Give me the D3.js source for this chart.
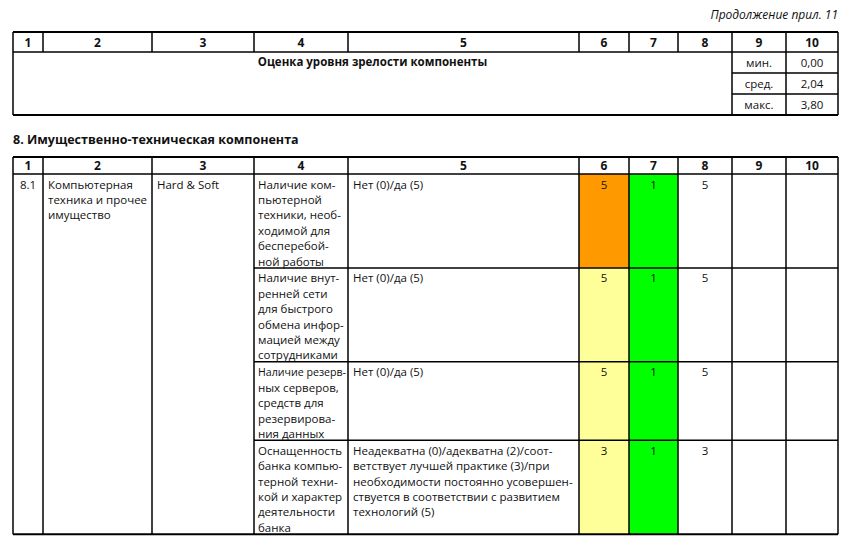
<!DOCTYPE html>
<html>
<head>
<meta charset="utf-8">
<script src="https://cdn.jsdelivr.net/npm/d3@7/dist/d3.min.js"></script>
<style>
  body { margin: 0; background: #fff; }
  text { font-family: "Open Sans", sans-serif; fill: #111; }
  .bold { font-weight: bold; }
</style>
</head>
<body>
<svg width="852" height="550"></svg>
<script>
// ---- data ----
const columns = ['1', '2', '3', '4', '5', '6', '7', '8', '9', '10'];
const noteText = 'Продолжение прил. 11';
const summaryTitle = 'Оценка уровня зрелости компоненты';
const statLabels = ['мин.', 'сред.', 'макс.'];
const statValues = [0.00, 2.04, 3.80];

const sectionTitle = '8. Имущественно-техническая компонента';
const groupId = '8.1';
const groupName = ['Компьютерная', 'техника и прочее', 'имущество'];
const groupTag = 'Hard & Soft';
const indicators = [
  ['Наличие ком-', 'пьютерной', 'техники, необ-', 'ходимой для', 'бесперебой-', 'ной работы'],
  ['Наличие внут-', 'ренней сети', 'для быстрого', 'обмена инфор-', 'мацией между', 'сотрудниками'],
  ['Наличие резерв-', 'ных серверов,', 'средств для', 'резервирова-', 'ния данных'],
  ['Оснащенность', 'банка компью-', 'терной техни-', 'кой и характер', 'деятельности', 'банка']
];
const criteria = [
  ['Нет (0)/да (5)'],
  ['Нет (0)/да (5)'],
  ['Нет (0)/да (5)'],
  ['Неадекватна (0)/адекватна (2)/соот-', 'ветствует лучшей практике (3)/при',
   'необходимости постоянно усовершен-', 'ствуется в соответствии с развитием', 'технологий (5)']
];
const col6Values = [5, 5, 5, 3];
const col7Values = [1, 1, 1, 1];
const col8Values = [5, 5, 5, 3];
const col6Status = ['alert', 'ok', 'ok', 'ok'];

// ---- layout ----
const svg = d3.select('svg');
const edges = [13, 43, 152, 254, 348, 579, 629, 678, 732, 786, 838];
const xLeft = d3.scaleOrdinal().domain(columns).range(edges.slice(0, -1));
const xRight = d3.scaleOrdinal().domain(columns).range(edges.slice(1));
const xMid = c => (xLeft(c) + xRight(c)) / 2;
const tableLeft = xLeft('1');
const tableRight = xRight('10');
const fs = 11.5;

const fill6 = d3.scaleOrdinal().domain(['alert', 'ok']).range(['#ff9900', '#ffff99']);
const fill7 = '#00ff00';
const fmt = d3.formatLocale({ decimal: ',', thousands: ' ', grouping: [3], currency: ['', ''] }).format('.2f');

const lines = svg.append('g').attr('class', 'lines');
const hline = (x1, x2, y, w = 1.5) => lines.append('line')
  .attr('x1', x1).attr('x2', x2).attr('y1', y).attr('y2', y)
  .attr('stroke', '#000').attr('stroke-width', w);
const vline = (x, y1, y2, w = 1.5) => lines.append('line')
  .attr('x1', x).attr('x2', x).attr('y1', y1).attr('y2', y2)
  .attr('stroke', '#000').attr('stroke-width', w);

// squeeze a line if it would run past its cell
const fitText = (sel, maxW) => {
  sel.each(function () {
    const len = this.getComputedTextLength();
    if (len > maxW) d3.select(this).attr('textLength', maxW).attr('lengthAdjust', 'spacingAndGlyphs');
  });
};

const labels = svg.append('g');

const drawHeader = (top, h) => {
  hline(tableLeft, tableRight, top, 2);
  hline(tableLeft, tableRight, top + h);
  edges.forEach(x => vline(x, top, top + h));
  labels.selectAll(null).data(columns).enter().append('text')
    .attr('class', 'bold')
    .attr('x', xMid).attr('y', top + h / 2 + 4.5)
    .attr('text-anchor', 'middle').attr('font-size', 12)
    .text(d => d);
};

// note
labels.append('text')
  .attr('x', tableRight).attr('y', 19)
  .attr('text-anchor', 'end').attr('font-size', 12).attr('font-style', 'italic')
  .text(noteText);

// ---- top table ----
const top1 = 32, head1 = 20, bottom1 = 115;
drawHeader(top1, head1);
const statY = d3.scaleBand().domain(statLabels).range([top1 + head1, bottom1]);

statLabels.forEach((s, i) => {
  if (i > 0) hline(xLeft('9'), tableRight, statY(s));
});
vline(tableLeft, top1 + head1, bottom1);
vline(xLeft('9'), top1 + head1, bottom1);
vline(xLeft('10'), top1 + head1, bottom1);
vline(tableRight, top1 + head1, bottom1);
hline(tableLeft, tableRight, bottom1, 2);

labels.append('text')
  .attr('class', 'bold')
  .attr('x', (tableLeft + xRight('8')) / 2).attr('y', statY(statLabels[0]) + 14)
  .attr('text-anchor', 'middle').attr('font-size', 11.5)
  .text(summaryTitle);

labels.selectAll(null).data(statLabels).enter().append('text')
  .attr('x', xMid('9')).attr('y', d => statY(d) + statY.bandwidth() / 2 + 4)
  .attr('text-anchor', 'middle').attr('font-size', fs)
  .text(d => d);
labels.selectAll(null).data(statValues).enter().append('text')
  .attr('x', xMid('10')).attr('y', (d, i) => statY(statLabels[i]) + statY.bandwidth() / 2 + 4)
  .attr('text-anchor', 'middle').attr('font-size', fs)
  .text(d => fmt(d));

// ---- section ----
labels.append('text')
  .attr('class', 'bold')
  .attr('x', tableLeft).attr('y', 144)
  .attr('font-size', 12.5)
  .text(sectionTitle);

const top2 = 157, head2 = 17;
drawHeader(top2, head2);

const lineH = 15.4;
const rowLines = indicators.map((d, i) => Math.max(d.length, criteria[i].length));
const rowTops = [];
let yAcc = top2 + head2;
rowLines.forEach(n => { rowTops.push(yAcc); yAcc += n * lineH + 1.5; });
const bodyBottom = yAcc;
const rowBottom = i => (i < rowTops.length - 1 ? rowTops[i + 1] : bodyBottom);

// coloured cells under the grid
const cells = svg.insert('g', '.lines');
cells.selectAll(null).data(col6Status).enter().append('rect')
  .attr('x', xLeft('6')).attr('width', xRight('6') - xLeft('6'))
  .attr('y', (d, i) => rowTops[i]).attr('height', (d, i) => rowBottom(i) - rowTops[i])
  .attr('fill', d => fill6(d));
cells.selectAll(null).data(col7Values).enter().append('rect')
  .attr('x', xLeft('7')).attr('width', xRight('7') - xLeft('7'))
  .attr('y', (d, i) => rowTops[i]).attr('height', (d, i) => rowBottom(i) - rowTops[i])
  .attr('fill', fill7);

// grid
edges.forEach(x => vline(x, top2 + head2, bodyBottom));
rowTops.slice(1).forEach(y => hline(xLeft('4'), tableRight, y));
hline(tableLeft, tableRight, bodyBottom, 2);

const base = 14.5;
const drawLines = (col, data, rowIdx) => {
  const pad = col === '4' ? 4 : 5;
  const t = labels.selectAll(null).data(data).enter().append('text')
    .attr('x', xLeft(col) + pad)
    .attr('y', (d, k) => rowTops[rowIdx] + base + k * lineH)
    .attr('font-size', fs)
    .text(d => d);
  fitText(t, xRight(col) - xLeft(col) - pad - 2);
};

labels.append('text')
  .attr('x', xMid('1')).attr('y', rowTops[0] + base)
  .attr('text-anchor', 'middle').attr('font-size', fs)
  .text(groupId);
drawLines('2', groupName, 0);
drawLines('3', [groupTag], 0);
indicators.forEach((d, i) => drawLines('4', d, i));
criteria.forEach((d, i) => drawLines('5', d, i));

[['6', col6Values], ['7', col7Values], ['8', col8Values]].forEach(([col, vals]) => {
  labels.selectAll(null).data(vals).enter().append('text')
    .attr('x', xMid(col)).attr('y', (d, i) => rowTops[i] + base)
    .attr('text-anchor', 'middle').attr('font-size', fs)
    .text(d => d);
});
</script>
</body>
</html>
